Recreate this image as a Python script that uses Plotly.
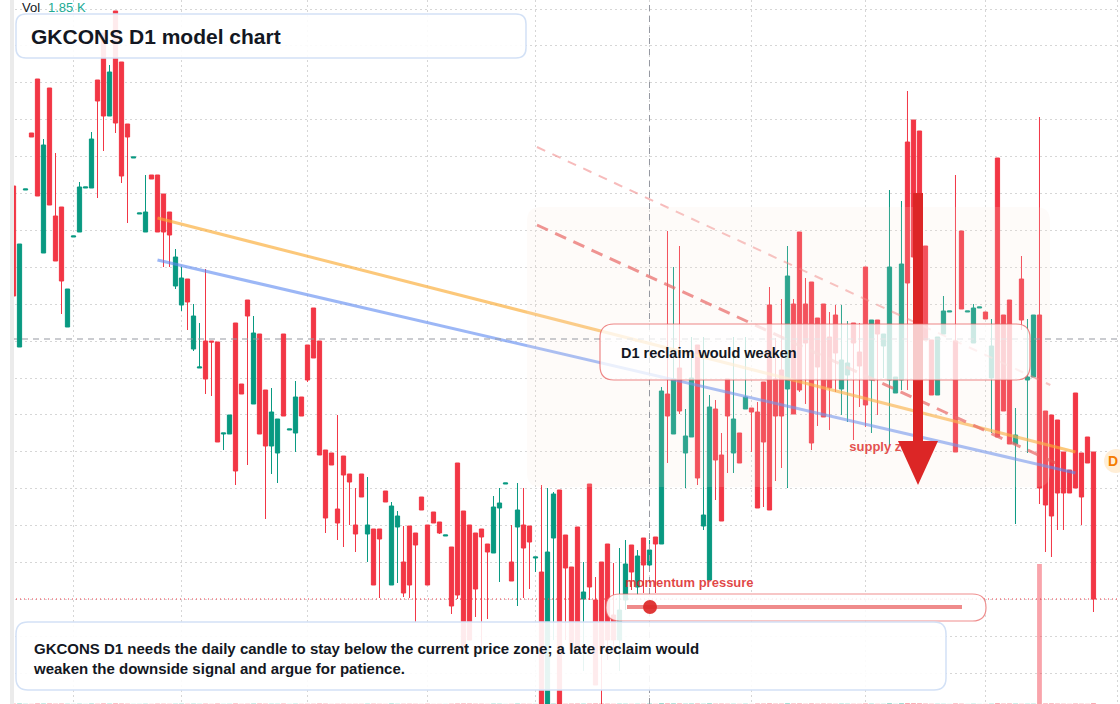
import plotly.graph_objects as go

W, H = 1120, 704

# ---------------- data (daily candles) ----------------
open_ = [
    23.14, 21.53, 23.10, 23.67, 24.21, 22.47, 24.12, 22.84, 22.93, 21.73,
    22.63, 22.68, 23.12, 23.12, 24.20, 24.67, 23.84, 24.89, 24.38, 23.76,
    23.42, 22.86, 22.68, 23.25, 23.25, 23.06, 22.88, 22.14, 21.95, 22.21,
    21.51, 21.32, 21.59, 21.59, 21.58, 20.66, 20.66, 21.77, 21.16, 22.00,
    20.96, 21.66, 21.10, 20.54, 20.47, 21.66, 20.70, 20.67, 21.03, 21.55,
    21.92, 21.59, 20.50, 20.47, 19.91, 20.44, 20.26, 19.75, 20.26, 19.66,
    19.71, 19.71, 20.09, 19.15, 19.73, 19.38, 19.74, 19.67, 20.03, 19.75,
    19.88, 19.78, 19.64, 19.53, 20.37, 19.89, 19.75, 19.67, 19.71, 19.56,
    19.47, 19.92, 20.16, 19.38, 19.73, 19.75, 19.74, 19.42, 19.28, 17.95,
    19.62, 20.10, 19.65, 19.33, 19.73, 19.01, 20.16, 19.00, 19.38, 19.56,
    18.85, 18.60, 19.00, 19.55, 19.13, 19.62, 19.35, 19.63, 19.56, 21.06,
    20.66, 21.32, 20.47, 20.63, 21.55, 19.74, 19.20, 20.91, 20.45, 21.21,
    20.47, 20.67, 20.91, 20.92, 20.88, 21.18, 21.95, 21.21, 21.30, 21.11,
    21.96, 22.68, 21.96, 22.18, 21.82, 21.96, 21.63, 21.85, 21.11, 21.25,
    21.77, 21.48, 22.33, 21.20, 21.80, 21.54, 21.20, 21.07, 21.20, 23.58,
    23.80, 23.69, 22.54, 21.60, 21.05, 21.66, 21.88, 21.59, 22.69, 21.88,
    21.57, 21.92, 21.88, 21.22, 23.42, 21.85, 22.00, 20.56, 22.21, 21.20,
    21.23, 21.85, 20.89, 20.85, 20.80, 20.48, 20.30, 21.07, 20.47, 20.63,
    20.48,
]
high = [
    23.14, 22.56, 23.11, 23.67, 24.21, 23.61, 24.12, 23.47, 22.93, 22.11,
    22.64, 23.18, 23.13, 23.68, 24.20, 24.67, 24.35, 24.89, 24.38, 23.76,
    23.43, 22.87, 23.25, 23.25, 23.25, 23.06, 22.88, 22.51, 22.33, 22.21,
    21.96, 21.77, 22.31, 21.59, 21.58, 20.67, 20.85, 21.77, 21.16, 22.00,
    21.84, 21.66, 21.10, 21.12, 20.81, 21.66, 20.71, 21.19, 21.03, 21.55,
    21.92, 21.59, 20.50, 20.47, 20.85, 20.44, 20.26, 20.12, 20.26, 20.23,
    19.71, 19.71, 20.09, 19.98, 19.89, 19.74, 19.74, 19.67, 20.03, 19.75,
    19.88, 19.78, 19.65, 19.53, 20.37, 19.89, 19.75, 19.67, 19.71, 19.56,
    20.04, 20.12, 20.17, 19.75, 20.17, 20.12, 19.74, 19.43, 20.15, 20.12,
    20.08, 20.10, 19.65, 19.33, 19.73, 19.38, 20.16, 19.23, 19.38, 19.56,
    19.37, 19.52, 19.60, 19.55, 19.50, 19.62, 19.60, 19.63, 21.13, 22.69,
    22.33, 22.54, 20.91, 21.63, 21.55, 21.63, 21.05, 21.00, 20.67, 21.21,
    21.63, 20.67, 21.63, 20.92, 20.98, 21.18, 22.13, 21.62, 22.01, 22.54,
    22.01, 22.68, 22.22, 22.18, 21.82, 21.96, 21.88, 21.95, 21.95, 21.79,
    21.77, 21.77, 22.33, 21.80, 21.80, 21.66, 23.10, 21.23, 22.99, 24.09,
    23.80, 23.69, 22.54, 21.60, 21.63, 22.04, 21.89, 23.25, 22.69, 21.89,
    21.96, 21.93, 21.88, 21.81, 23.42, 21.85, 22.00, 20.92, 22.44, 21.81,
    21.85, 23.83, 20.89, 20.85, 20.80, 20.48, 20.30, 21.07, 20.47, 20.63,
    20.48,
]
low = [
    22.04, 21.53, 23.10, 23.63, 23.04, 22.47, 22.95, 22.39, 21.86, 21.73,
    22.63, 22.68, 23.12, 23.12, 23.02, 23.49, 23.84, 23.67, 23.17, 22.77,
    23.42, 22.86, 22.68, 23.21, 22.68, 22.33, 22.33, 22.11, 21.89, 21.70,
    21.49, 21.32, 21.06, 21.04, 20.58, 20.50, 20.66, 20.15, 21.06, 20.35,
    20.96, 20.66, 19.81, 20.26, 20.17, 20.84, 20.70, 20.48, 20.84, 21.18,
    21.42, 20.45, 19.67, 20.35, 19.60, 19.53, 19.75, 19.48, 20.03, 19.38,
    19.15, 19.02, 19.98, 19.15, 19.17, 19.03, 19.02, 18.78, 19.90, 19.15,
    19.77, 19.66, 19.64, 18.86, 19.01, 18.51, 18.60, 18.83, 18.53, 18.81,
    19.47, 19.18, 20.16, 19.19, 18.94, 19.02, 19.11, 19.28, 17.92, 17.95,
    18.60, 17.95, 18.60, 18.50, 18.51, 18.29, 19.00, 18.15, 17.88, 18.40,
    18.50, 18.29, 18.90, 19.10, 19.05, 19.07, 19.30, 19.07, 19.56, 20.37,
    20.66, 20.86, 20.12, 20.63, 20.15, 19.70, 19.20, 20.00, 19.79, 20.27,
    20.27, 20.37, 20.91, 20.48, 19.92, 19.93, 19.90, 20.19, 20.32, 20.12,
    20.86, 21.08, 20.96, 20.50, 20.74, 20.83, 20.70, 21.08, 20.85, 20.78,
    20.60, 20.93, 20.73, 20.67, 20.85, 21.22, 20.53, 21.07, 21.10, 21.10,
    22.30, 21.55, 21.60, 21.05, 21.05, 21.66, 21.88, 20.48, 21.91, 21.88,
    21.57, 21.92, 21.81, 20.67, 20.63, 20.89, 20.56, 19.76, 21.70, 20.47,
    21.23, 19.96, 19.48, 19.43, 19.70, 19.70, 20.07, 20.12, 19.75, 20.37,
    18.88,
]
close = [
    22.04, 22.56, 23.11, 23.63, 23.04, 23.55, 22.95, 22.39, 22.19, 22.11,
    22.64, 23.13, 23.13, 23.61, 23.99, 23.84, 24.28, 23.77, 23.24, 23.63,
    23.43, 22.87, 22.88, 23.21, 22.68, 22.68, 22.65, 22.43, 22.22, 21.98,
    21.84, 21.33, 21.21, 21.58, 20.58, 20.67, 20.85, 20.29, 21.06, 21.84,
    21.67, 20.66, 20.54, 20.88, 20.81, 20.84, 20.71, 21.03, 20.84, 21.20,
    21.42, 20.45, 19.82, 20.35, 19.77, 20.25, 20.18, 19.66, 20.03, 19.75,
    19.15, 19.61, 19.98, 19.94, 19.84, 19.07, 19.15, 19.55, 19.90, 19.15,
    19.77, 19.67, 19.65, 18.94, 19.05, 18.51, 18.60, 19.11, 19.63, 19.48,
    19.93, 19.97, 20.17, 19.19, 19.90, 19.52, 19.58, 19.43, 17.92, 19.48,
    20.06, 17.95, 19.32, 18.50, 18.51, 19.08, 19.13, 18.15, 18.50, 18.60,
    18.60, 18.90, 19.36, 19.28, 19.44, 19.35, 19.50, 19.56, 21.09, 20.84,
    21.21, 20.89, 20.64, 21.22, 20.22, 19.85, 20.93, 20.40, 19.79, 20.84,
    20.81, 20.37, 21.03, 20.88, 19.92, 20.58, 19.90, 20.84, 20.84, 22.24,
    20.86, 21.10, 21.57, 20.57, 21.33, 20.83, 21.12, 21.47, 21.40, 21.37,
    21.57, 21.34, 20.95, 21.80, 21.66, 21.66, 22.33, 21.23, 22.36, 22.17,
    22.43, 21.55, 21.60, 21.05, 21.63, 21.89, 21.89, 20.48, 21.91, 21.89,
    21.92, 21.93, 21.81, 21.54, 20.63, 20.89, 20.56, 20.65, 21.80, 21.23,
    21.85, 20.12, 19.95, 19.84, 20.07, 20.07, 20.07, 20.12, 20.03, 20.37,
    19.01,
]
volume_k = [
    1.6, 2.1, 0.9, 0.7, 2.4, 1.8, 2.2, 1.4, 1.9, 1.1,
    0.6, 1.3, 0.5, 1.7, 1.2, 2.3, 1.5, 2.6, 2.0, 1.4,
    0.5, 0.6, 1.1, 0.7, 1.6, 1.3, 1.0, 1.2, 1.4, 1.0,
    1.3, 0.8, 1.5, 0.7, 1.9, 0.6, 0.9, 2.1, 0.8, 1.2,
    1.6, 1.9, 1.4, 1.1, 1.0, 1.7, 0.5, 1.2, 0.8, 1.0,
    1.1, 2.0, 1.5, 0.6, 1.0, 1.2, 0.7, 0.9, 0.9, 1.3,
    1.4, 1.0, 0.6, 1.8, 0.9, 1.1, 1.3, 1.0, 0.6, 1.4,
    0.5, 0.6, 0.4, 1.3, 2.0, 2.2, 2.0, 1.3, 1.2, 0.6,
    1.5, 1.3, 0.4, 0.9, 1.7, 1.1, 0.9, 0.6, 2.6, 2.8,
    1.6, 3.1, 1.2, 1.8, 2.0, 1.5, 1.9, 2.4, 2.1, 1.6,
    1.0, 1.5, 1.3, 1.0, 1.2, 1.1, 1.85, 0.8, 3.2, 2.6,
    2.4, 2.3, 1.4, 1.9, 2.2, 1.2, 2.7, 1.6, 1.8, 1.4,
    1.2, 0.9, 1.3, 0.6, 2.1, 1.9, 2.8, 1.6, 1.7, 2.9,
    2.0, 2.4, 1.2, 2.3, 1.4, 1.9, 1.5, 1.2, 1.6, 1.3,
    1.1, 1.0, 2.2, 1.5, 0.9, 0.8, 3.1, 0.7, 3.0, 3.6,
    3.3, 2.9, 1.8, 1.2, 1.1, 0.9, 0.4, 2.3, 1.5, 0.4,
    1.2, 0.4, 0.5, 1.3, 3.4, 1.7, 2.2, 1.6, 1.1, 1.2,
    1.3, 520.0, 2.4, 2.6, 1.9, 1.3, 0.9, 2.0, 1.4, 1.0,
    3.5,
]
idx = list(range(len(open_)))

# month boundaries (vertical grid), crosshair, model lines
month_ticks = [10, 28, 49, 69, 87, 106, 123, 142, 162, 184]
crosshair_idx = 106
crosshair_price = 21.61
crosshair_volume = "1.85 K"
last_close = close[-1]

trend_orange_x, trend_orange_y = [24, 177], [22.82, 20.48]
trend_blue_x, trend_blue_y = [24, 177], [22.40, 20.27]
resist_x, resist_y = [87.25, 173.7], [22.75, 20.37]
resist_outer_x, resist_outer_y = [87.25, 172.8], [23.53, 21.15]
supply_label_idx, supply_label_price = 139.3, 20.52

title_text = "GKCONS D1 model chart"
note_text = ("GKCONS D1 needs the daily candle to stay below the current price zone; a late reclaim would"
             "<br>weaken the downside signal and argue for patience.")

# ---------------- figure ----------------
UP, DN = "#089981", "#f23645"
FONT = "Liberation Sans, Arial, sans-serif"

fig = go.Figure()
fig.add_trace(go.Bar(
    x=idx, y=volume_k, yaxis="y2", width=0.8,
    marker=dict(color=[("rgba(8,153,129,0.45)" if c >= o else "rgba(242,54,69,0.45)")
                       for o, c in zip(open_, close)], line=dict(width=0)),
    hoverinfo="skip", showlegend=False))
fig.add_trace(go.Candlestick(
    x=idx, open=open_, high=high, low=low, close=close,
    increasing=dict(line=dict(color=UP, width=1), fillcolor=UP),
    decreasing=dict(line=dict(color=DN, width=1), fillcolor=DN),
    whiskerwidth=0, hoverinfo="skip", showlegend=False))
fig.add_trace(go.Scatter(x=trend_orange_x, y=trend_orange_y, mode="lines",
                         line=dict(color="rgba(250,170,50,0.65)", width=3), hoverinfo="skip", showlegend=False))
fig.add_trace(go.Scatter(x=trend_blue_x, y=trend_blue_y, mode="lines",
                         line=dict(color="rgba(90,135,240,0.6)", width=3), hoverinfo="skip", showlegend=False))
fig.add_trace(go.Scatter(x=resist_x, y=resist_y, mode="lines",
                         line=dict(color="rgba(230,80,80,0.7)", width=3, dash="12px,8px"), hoverinfo="skip", showlegend=False))
fig.add_trace(go.Scatter(x=resist_outer_x, y=resist_outer_y, mode="lines",
                         line=dict(color="rgba(240,120,120,0.5)", width=2, dash="9px,8px"), hoverinfo="skip", showlegend=False))
fig.add_trace(go.Scatter(x=[supply_label_idx], y=[supply_label_price], mode="text",
                         text=["<b>supply zone</b>"], textposition="middle right",
                         textfont=dict(family=FONT, size=13, color="#e03535"), hoverinfo="skip", showlegend=False))


def px(x):
    return x / W


def py(y):
    return 1 - y / H


def rrect(x0, y0, x1, y1, r):
    pts = [
        ("M", [(x0 + r, y0)]), ("L", [(x1 - r, y0)]), ("Q", [(x1, y0), (x1, y0 + r)]),
        ("L", [(x1, y1 - r)]), ("Q", [(x1, y1), (x1 - r, y1)]), ("L", [(x0 + r, y1)]),
        ("Q", [(x0, y1), (x0, y1 - r)]), ("L", [(x0, y0 + r)]), ("Q", [(x0, y0), (x0 + r, y0)]),
    ]
    s = ""
    for cmd, ps in pts:
        s += cmd + " " + " ".join(f"{px(a):.5f},{py(b):.5f}" for a, b in ps) + " "
    return s + "Z"


def box(x0, y0, x1, y1, r, fill, line_color, lw):
    return dict(type="path", path=rrect(x0, y0, x1, y1, r), xref="paper", yref="paper",
                fillcolor=fill, line=dict(color=line_color, width=lw), layer="above")


shapes = []
# light model zone
shapes.append(box(527, 207, 1050, 487, 14, "rgba(250,232,220,0.16)", "rgba(0,0,0,0)", 0))
# crosshair
shapes.append(dict(type="line", xref="x", yref="paper", x0=crosshair_idx, x1=crosshair_idx, y0=0, y1=1,
                   line=dict(color="#9598a1", width=1, dash="6px,5px"), layer="above"))
shapes.append(dict(type="line", xref="paper", yref="y", x0=0, x1=1, y0=crosshair_price, y1=crosshair_price,
                   line=dict(color="#9598a1", width=1, dash="6px,5px"), layer="above"))
# last price line
shapes.append(dict(type="line", xref="paper", yref="y", x0=0, x1=1, y0=last_close, y1=last_close,
                   line=dict(color=DN, width=1, dash="1px,3px"), layer="above"))
# title box
shapes.append(box(16, 14, 526, 58, 10, "rgba(255,255,255,0.9)", "#d3e1f6", 1.5))
# arrow
shapes.append(dict(type="rect", xref="paper", yref="paper", x0=px(913), x1=px(923), y0=py(441), y1=py(193),
                   fillcolor="#dc2626", line=dict(width=0), layer="above"))
shapes.append(dict(type="path", xref="paper", yref="paper",
                   path=f"M {px(898)},{py(441)} L {px(938)},{py(441)} L {px(918)},{py(485)} Z",
                   fillcolor="#dc2626", line=dict(width=0), layer="above"))
# reclaim box
shapes.append(box(600, 324, 1030, 380, 14, "rgba(255,255,255,0.76)", "rgba(232,96,96,0.75)", 1.2))
# momentum capsule
shapes.append(box(606, 594, 986, 621, 13.5, "rgba(255,255,255,0.85)", "rgba(232,96,96,0.7)", 1.2))
shapes.append(dict(type="line", xref="paper", yref="paper", x0=px(627), x1=px(962), y0=py(607), y1=py(607),
                   line=dict(color="rgba(235,110,110,0.8)", width=4), layer="above"))
shapes.append(dict(type="circle", xref="paper", yref="paper", x0=px(643), x1=px(657), y0=py(614), y1=py(600),
                   fillcolor="rgba(220,38,38,0.92)", line=dict(width=0), layer="above"))
# bottom note box
shapes.append(box(16, 622, 946, 690, 12, "rgba(255,255,255,0.9)", "#d3e1f6", 1.5))
# left strip
shapes.append(dict(type="rect", xref="paper", yref="paper", x0=0, x1=px(10), y0=0, y1=1,
                   fillcolor="#ffffff", line=dict(width=0), layer="above"))
shapes.append(dict(type="rect", xref="paper", yref="paper", x0=px(10), x1=px(14), y0=0, y1=1,
                   fillcolor="#ebebeb", line=dict(width=0), layer="above"))
# right price label bubble
shapes.append(dict(type="circle", xref="paper", yref="paper", x0=px(1104), x1=px(1128), y0=py(473), y1=py(449),
                   fillcolor="#ffeed6", line=dict(width=0), layer="above"))

ann = []


def text(x, y, s, size, color, bold=False, anchor="left"):
    ann.append(dict(x=px(x), y=py(y), xref="paper", yref="paper", text=(f"<b>{s}</b>" if bold else s),
                    showarrow=False, xanchor=anchor, yanchor="middle", align="left",
                    font=dict(family=FONT, size=size, color=color), borderpad=0))


text(21, 8, "Vol", 13, "#131722")
text(47, 8, crosshair_volume, 13, "#22ab94")
text(30, 36, title_text, 21, "#131722", bold=True)
text(620, 353, "D1 reclaim would weaken", 14.5, "#131722", bold=True)
text(624, 582, "momentum pressure", 13, "rgba(220,38,38,0.85)", bold=True)
text(32, 658, note_text, 15, "#131722", bold=True)
text(1113, 461, "D", 14, "#f57c00", bold=True, anchor="center")

fig.update_layout(
    width=W, height=H, margin=dict(l=0, r=0, t=0, b=0),
    paper_bgcolor="#ffffff", plot_bgcolor="#ffffff",
    boxgap=0.2, boxgroupgap=0.12,
    showlegend=False, shapes=shapes, annotations=ann,
    xaxis=dict(range=[-2.25, 184.42], tickmode="array", tickvals=month_ticks, showticklabels=False,
               showgrid=True, gridcolor="#d6d6d6", griddash="2px,3px", zeroline=False, showline=False,
               rangeslider=dict(visible=False), fixedrange=True),
    yaxis=dict(range=[17.96, 25.0], tick0=24.91, dtick=0.369, showticklabels=False,
               showgrid=True, gridcolor="#d6d6d6", griddash="2px,3px", zeroline=False, showline=False,
               fixedrange=True),
    yaxis2=dict(overlaying="y", range=[0, 2615], visible=False, fixedrange=True),
)

fig.write_html("out.html")
